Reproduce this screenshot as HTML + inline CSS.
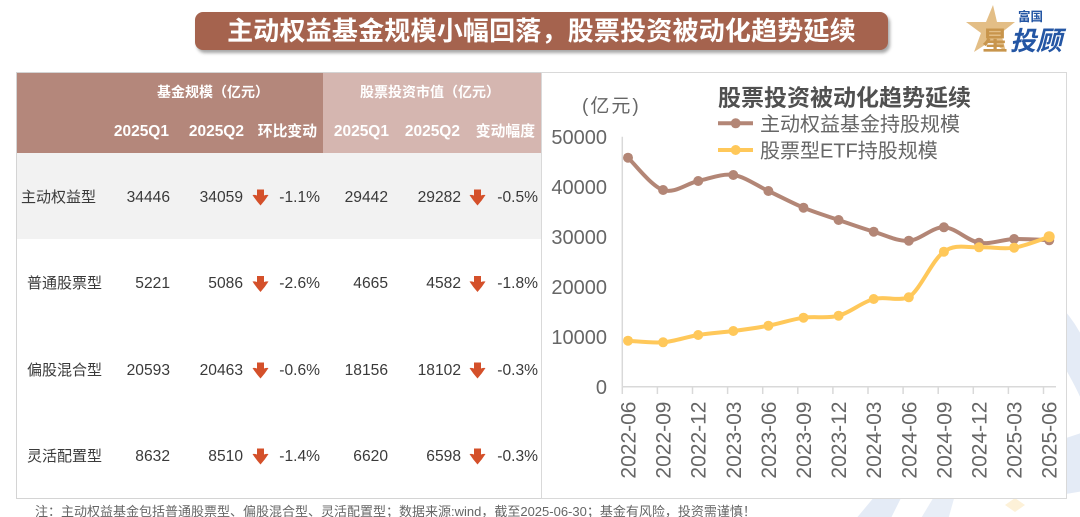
<!DOCTYPE html>
<html><head><meta charset="utf-8">
<style>
html,body{margin:0;padding:0;}
body{width:1080px;height:517px;overflow:hidden;background:#fff;position:relative;font-family:"Liberation Sans","Noto Sans CJK SC",sans-serif;}
.abs{position:absolute;white-space:nowrap;}
.banner{position:absolute;left:195px;top:12px;width:693px;height:38px;background:#a5634e;border-radius:8px;box-shadow:2px 3px 3px rgba(0,0,0,0.35);color:#fff;font-weight:700;font-size:26px;line-height:38px;text-align:center;letter-spacing:0.2px;font-family:"Liberation Sans","Noto Sans CJK SC",sans-serif;}
.hd{position:absolute;color:#fff;font-weight:700;height:20px;line-height:20px;white-space:nowrap;}
.cell{position:absolute;color:#3a3a3a;font-size:15.6px;height:20px;line-height:20px;white-space:nowrap;}
.r{text-align:right;}
</style></head><body>

<!-- watermark shapes -->
<svg class="abs" style="left:0;top:0" width="1080" height="517">
  <path d="M1055,300 Q1085,330 1092,365 L1092,425 Q1075,380 1050,345 Z" fill="#e4ebf6"/>
  <path d="M1060,440 L1090,430 L1090,490 L1060,495 Z" fill="#e4ebf6"/>
  <path d="M855,520 L880,490 L905,490 L890,520 Z" fill="#e4ebf6"/>
  <path d="M920,520 L935,495 L955,495 L948,520 Z" fill="#e8eef7"/>
  <path d="M1005,505 L1015,498 L1025,505 L1015,512 Z" fill="#fdf1d8"/>
</svg>

<!-- title banner -->
<div class="banner">主动权益基金规模小幅回落，股票投资被动化趋势延续</div>

<!-- logo -->
<svg class="abs" style="left:960px;top:0" width="120" height="60">
  <polygon points="33,5 37,22 55,22 41,33 46,52 31,41 14,52 21,33 6,22 26,22" fill="#e3be86"/>
  <text x="22" y="50" font-size="26" font-weight="700" fill="#c8954c" font-family="'Noto Sans CJK SC',sans-serif">星</text>
  <text x="58" y="21" font-size="12.5" font-weight="700" fill="#2456a4" font-family="'Noto Sans CJK SC',sans-serif">富国</text>
  <text x="50" y="50" font-size="26" font-weight="700" font-style="italic" fill="#2456a4" font-family="'Noto Sans CJK SC',sans-serif">投顾</text>
</svg>

<!-- table box -->
<div class="abs" style="left:16px;top:72px;width:525px;height:425px;border:1px solid #d4d4d4;border-right:none;"></div>
<div class="abs" style="left:17px;top:73px;width:306px;height:80px;background:#b4877b;"></div>
<div class="abs" style="left:323px;top:73px;width:218px;height:80px;background:#d5b6b0;"></div>
<div class="abs" style="left:17px;top:153px;width:524px;height:86px;background:#f2f2f2;"></div>

<!-- header texts -->
<div class="hd" style="left:140px;width:146px;top:82px;font-size:14px;text-align:center;">基金规模（亿元）</div>
<div class="hd" style="left:350px;width:160px;top:82px;font-size:14px;text-align:center;">股票投资市值（亿元）</div>
<div class="hd r" style="left:89px;width:80px;top:122px;font-size:15.5px;">2025Q1</div>
<div class="hd r" style="left:164px;width:80px;top:122px;font-size:15.5px;">2025Q2</div>
<div class="hd r" style="left:237px;width:80px;top:122px;font-size:14.8px;">环比变动</div>
<div class="hd r" style="left:309px;width:80px;top:122px;font-size:15.5px;">2025Q1</div>
<div class="hd r" style="left:380px;width:80px;top:122px;font-size:15.5px;">2025Q2</div>
<div class="hd r" style="left:455px;width:80px;top:122px;font-size:14.8px;">变动幅度</div>

<!-- rows -->
<div class="cell" style="left:21px;top:188px;font-size:15px;">主动权益型</div>
<div class="cell r" style="left:90px;width:80px;top:188px;">34446</div>
<div class="cell r" style="left:163px;width:80px;top:188px;">34059</div>
<div class="cell r" style="left:240px;width:80px;top:188px;">-1.1%</div>
<div class="cell r" style="left:308px;width:80px;top:188px;">29442</div>
<div class="cell r" style="left:381px;width:80px;top:188px;">29282</div>
<div class="cell r" style="left:458px;width:80px;top:188px;">-0.5%</div>

<div class="cell" style="left:27px;top:274px;font-size:15px;">普通股票型</div>
<div class="cell r" style="left:90px;width:80px;top:274px;">5221</div>
<div class="cell r" style="left:163px;width:80px;top:274px;">5086</div>
<div class="cell r" style="left:240px;width:80px;top:274px;">-2.6%</div>
<div class="cell r" style="left:308px;width:80px;top:274px;">4665</div>
<div class="cell r" style="left:381px;width:80px;top:274px;">4582</div>
<div class="cell r" style="left:458px;width:80px;top:274px;">-1.8%</div>

<div class="cell" style="left:27px;top:361px;font-size:15px;">偏股混合型</div>
<div class="cell r" style="left:90px;width:80px;top:361px;">20593</div>
<div class="cell r" style="left:163px;width:80px;top:361px;">20463</div>
<div class="cell r" style="left:240px;width:80px;top:361px;">-0.6%</div>
<div class="cell r" style="left:308px;width:80px;top:361px;">18156</div>
<div class="cell r" style="left:381px;width:80px;top:361px;">18102</div>
<div class="cell r" style="left:458px;width:80px;top:361px;">-0.3%</div>

<div class="cell" style="left:27px;top:447px;font-size:15px;">灵活配置型</div>
<div class="cell r" style="left:90px;width:80px;top:447px;">8632</div>
<div class="cell r" style="left:163px;width:80px;top:447px;">8510</div>
<div class="cell r" style="left:240px;width:80px;top:447px;">-1.4%</div>
<div class="cell r" style="left:308px;width:80px;top:447px;">6620</div>
<div class="cell r" style="left:381px;width:80px;top:447px;">6598</div>
<div class="cell r" style="left:458px;width:80px;top:447px;">-0.3%</div>

<!-- arrows -->
<svg class="abs" style="left:0;top:0" width="545" height="517">
  <defs>
    <path id="arr" d="M4,0 L11,0 L11,6 Q13.5,5 15.5,5.5 Q12,11 7.5,16 Q3,11 -0.5,5.5 Q1.5,5 4,6 Z" fill="#d4502a"/>
  </defs>
  <use href="#arr" x="253" y="189.5"/>
  <use href="#arr" x="470" y="189.5"/>
  <use href="#arr" x="253" y="276"/>
  <use href="#arr" x="470" y="276"/>
  <use href="#arr" x="253" y="362.5"/>
  <use href="#arr" x="470" y="362.5"/>
  <use href="#arr" x="253" y="448.5"/>
  <use href="#arr" x="470" y="448.5"/>
</svg>

<!-- chart box -->
<div class="abs" style="left:541px;top:72px;width:524px;height:425px;border:1px solid #d9d9d9;background:#fff;"></div>

<svg class="abs" style="left:0;top:0" width="1080" height="517" font-family="'Liberation Sans','Noto Sans CJK SC',sans-serif">
  <!-- title & legend -->
  <text x="718" y="105.4" font-size="23" font-weight="700" fill="#505050">股票投资被动化趋势延续</text>
  <line x1="718" y1="123.3" x2="753" y2="123.3" stroke="#b38676" stroke-width="4"/>
  <circle cx="735.7" cy="123.3" r="5" fill="#b38676"/>
  <text x="760" y="131" font-size="20" fill="#666">主动权益基金持股规模</text>
  <line x1="718" y1="150" x2="753" y2="150" stroke="#ffc85a" stroke-width="4"/>
  <circle cx="735.7" cy="150" r="5" fill="#ffc85a"/>
  <text x="760" y="157.6" font-size="20" fill="#666">股票型ETF持股规模</text>

  <text x="582" y="112" font-size="19" fill="#666" letter-spacing="2">(亿元)</text>

  <!-- y labels -->
  <g font-size="20" fill="#666" text-anchor="end">
    <text x="607" y="143.9">50000</text>
    <text x="607" y="193.9">40000</text>
    <text x="607" y="243.9">30000</text>
    <text x="607" y="293.9">20000</text>
    <text x="607" y="343.9">10000</text>
    <text x="607" y="393.9">0</text>
  </g>

  <!-- axes -->
  <line x1="622.3" y1="136.7" x2="622.3" y2="386.7" stroke="#d9d9d9" stroke-width="1.5"/>
  <line x1="622.3" y1="386.7" x2="1056" y2="386.7" stroke="#d9d9d9" stroke-width="1.5"/>
  <g stroke="#d9d9d9" stroke-width="1.5">
    <line x1="622.3" y1="386.7" x2="622.3" y2="394"/>
    <line x1="657.4" y1="386.7" x2="657.4" y2="394"/>
    <line x1="692.5" y1="386.7" x2="692.5" y2="394"/>
    <line x1="727.6" y1="386.7" x2="727.6" y2="394"/>
    <line x1="762.7" y1="386.7" x2="762.7" y2="394"/>
    <line x1="797.8" y1="386.7" x2="797.8" y2="394"/>
    <line x1="832.9" y1="386.7" x2="832.9" y2="394"/>
    <line x1="868" y1="386.7" x2="868" y2="394"/>
    <line x1="903.1" y1="386.7" x2="903.1" y2="394"/>
    <line x1="938.2" y1="386.7" x2="938.2" y2="394"/>
    <line x1="973.3" y1="386.7" x2="973.3" y2="394"/>
    <line x1="1008.4" y1="386.7" x2="1008.4" y2="394"/>
    <line x1="1043.5" y1="386.7" x2="1043.5" y2="394"/>
  </g>

  <!-- x labels -->
  <g font-size="21" fill="#666" text-anchor="end">
    <text transform="translate(635.5,401.5) rotate(-90)">2022-06</text>
    <text transform="translate(670.6,401.5) rotate(-90)">2022-09</text>
    <text transform="translate(705.7,401.5) rotate(-90)">2022-12</text>
    <text transform="translate(740.8,401.5) rotate(-90)">2023-03</text>
    <text transform="translate(775.9,401.5) rotate(-90)">2023-06</text>
    <text transform="translate(811,401.5) rotate(-90)">2023-09</text>
    <text transform="translate(846.1,401.5) rotate(-90)">2023-12</text>
    <text transform="translate(881.2,401.5) rotate(-90)">2024-03</text>
    <text transform="translate(916.3,401.5) rotate(-90)">2024-06</text>
    <text transform="translate(951.4,401.5) rotate(-90)">2024-09</text>
    <text transform="translate(986.5,401.5) rotate(-90)">2024-12</text>
    <text transform="translate(1021.6,401.5) rotate(-90)">2025-03</text>
    <text transform="translate(1056.7,401.5) rotate(-90)">2025-06</text>
  </g>

  <!-- brown series -->
  <path d="M628,157.7 C633.85,163.08 651.4,186.12 663.1,190 C674.8,193.88 686.5,183.5 698.2,181 C709.9,178.5 721.6,173.33 733.3,175 C745,176.67 756.7,185.55 768.4,191 C780.1,196.45 791.8,202.87 803.5,207.7 C815.2,212.53 826.9,216 838.6,220 C850.3,224 862,228.25 873.7,231.7 C885.4,235.15 897.1,241.43 908.8,240.7 C920.5,239.97 932.2,226.97 943.9,227.3 C955.6,227.63 967.3,240.75 979,242.7 C990.7,244.65 1002.4,239.4 1014.1,239 C1025.8,238.6 1043.35,240.08 1049.2,240.3" fill="none" stroke="#b38676" stroke-width="4" stroke-linejoin="round"/>
  <g fill="#b38676">
    <circle cx="628" cy="157.7" r="5"/>
    <circle cx="663.1" cy="190" r="5"/>
    <circle cx="698.2" cy="181" r="5"/>
    <circle cx="733.3" cy="175" r="5"/>
    <circle cx="768.4" cy="191" r="5"/>
    <circle cx="803.5" cy="207.7" r="5"/>
    <circle cx="838.6" cy="220" r="5"/>
    <circle cx="873.7" cy="231.7" r="5"/>
    <circle cx="908.8" cy="240.7" r="5"/>
    <circle cx="943.9" cy="227.3" r="5"/>
    <circle cx="979" cy="242.7" r="5"/>
    <circle cx="1014.1" cy="239" r="5"/>
    <circle cx="1049.2" cy="240.3" r="5"/>
  </g>

  <!-- yellow series -->
  <path d="M628,340.7 C633.85,340.97 651.4,343.25 663.1,342.3 C674.8,341.35 686.5,336.88 698.2,335 C709.9,333.12 721.6,332.55 733.3,331 C745,329.45 756.7,327.92 768.4,325.7 C780.1,323.48 791.8,319.37 803.5,317.7 C815.2,316.03 826.9,318.82 838.6,315.7 C850.3,312.58 862,302.07 873.7,299 C885.4,295.93 897.1,301.5 908.8,297.3 C920.5,289.42 932.2,260.03 943.9,251.7 C955.6,243.37 967.3,247.97 979,247.3 C990.7,246.63 1002.4,249.47 1014.1,247.7 C1025.8,245.93 1043.35,238.53 1049.2,236.7" fill="none" stroke="#ffc85a" stroke-width="4" stroke-linejoin="round"/>
  <g fill="#ffc85a">
    <circle cx="628" cy="340.7" r="5"/>
    <circle cx="663.1" cy="342.3" r="5"/>
    <circle cx="698.2" cy="335" r="5"/>
    <circle cx="733.3" cy="331" r="5"/>
    <circle cx="768.4" cy="325.7" r="5"/>
    <circle cx="803.5" cy="317.7" r="5"/>
    <circle cx="838.6" cy="315.7" r="5"/>
    <circle cx="873.7" cy="299" r="5"/>
    <circle cx="908.8" cy="297.3" r="5"/>
    <circle cx="943.9" cy="251.7" r="5"/>
    <circle cx="979" cy="247.3" r="5"/>
    <circle cx="1014.1" cy="247.7" r="5"/>
    <circle cx="1049.2" cy="236.7" r="5.5"/>
  </g>

  <!-- footnote -->
  <text x="35" y="516" font-size="13" fill="#666">注：主动权益基金包括普通股票型、偏股混合型、灵活配置型；数据来源:wind，截至2025-06-30；基金有风险，投资需谨慎！</text>
</svg>

</body></html>
